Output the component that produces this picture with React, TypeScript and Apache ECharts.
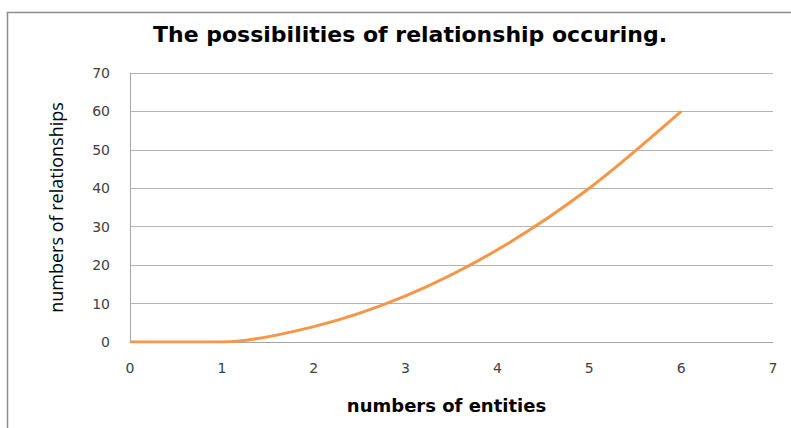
import React, { useEffect, useRef } from "react";
import * as echarts from "echarts";

const entities = [0, 1, 2, 3, 4, 5, 6];
const relationships = [0, 0, 4, 12, 24, 40, 60];
const xTicks = { min: 0, max: 7, interval: 1 };
const yTicks = { min: 0, max: 70, interval: 10 };

const titleText = "The possibilities of relationship occuring.";
const xName = "numbers of entities";
const yName = "numbers of relationships";

export default function App() {
  const ref = useRef<HTMLDivElement>(null);
  useEffect(() => {
    document.body.style.margin = "0";
    if (!ref.current) return;
    const chart = echarts.init(ref.current, null, { renderer: "svg" });
    const data = entities.map((x, i) => [x, relationships[i]]);
    chart.setOption({
      animation: false,
      backgroundColor: "#ffffff",
      title: {
        text: titleText,
        left: 405,
        top: 18,
        textAlign: "center",
        textStyle: {
          fontFamily: "DejaVu Sans",
          fontWeight: "bold",
          fontSize: 22,
          color: "#000000",
        },
      },
      graphic: [
        {
          type: "rect",
          shape: { x: 7.5, y: 12.5, width: 800, height: 430 },
          style: { fill: "none", stroke: "#8c8c8c", lineWidth: 1.5 },
          silent: true,
        },
      ],
      grid: { left: 130, right: 18, top: 73, bottom: 86 },
      xAxis: {
        type: "value",
        min: xTicks.min,
        max: xTicks.max,
        interval: xTicks.interval,
        name: xName,
        nameLocation: "middle",
        nameGap: 54,
        nameTextStyle: {
          fontFamily: "DejaVu Sans",
          fontWeight: "bold",
          fontSize: 18,
          color: "#000000",
          padding: [0, 10, 0, 0],
        },
        axisLine: { show: true, lineStyle: { color: "#a6a6a6", width: 1 } },
        axisTick: { show: false },
        splitLine: { show: false },
        axisLabel: {
          fontFamily: "DejaVu Sans",
          fontSize: 14,
          color: "#404040",
          margin: 19,
        },
      },
      yAxis: {
        type: "value",
        min: yTicks.min,
        max: yTicks.max,
        interval: yTicks.interval,
        name: yName,
        nameLocation: "middle",
        nameGap: 65,
        nameTextStyle: {
          fontFamily: "Open Sans",
          fontSize: 18,
          color: "#000000",
        },
        axisLine: { show: true, lineStyle: { color: "#a6a6a6", width: 1 } },
        axisTick: { show: false },
        splitLine: { show: true, lineStyle: { color: "#b3b3b3", width: 1 } },
        axisLabel: {
          fontFamily: "DejaVu Sans",
          fontSize: 14,
          color: "#404040",
          margin: 20,
        },
      },
      series: [
        {
          type: "line",
          data,
          smooth: 0.3,
          showSymbol: false,
          lineStyle: { color: "#f79646", width: 3 },
          itemStyle: { color: "#f79646" },
        },
      ],
    });
    return () => chart.dispose();
  }, []);
  return <div ref={ref} style={{ width: 791, height: 428 }} />;
}
